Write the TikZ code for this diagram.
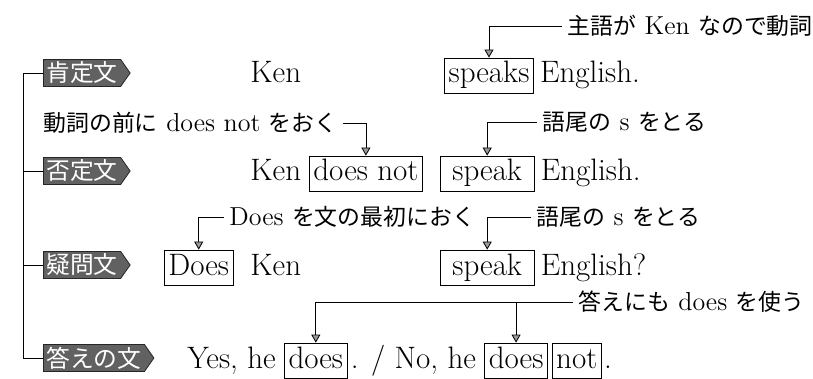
\documentclass[tikz,border=0pt]{standalone}
\usepackage{fontspec}
\newfontfamily\jp[Scale=0.88]{Noto Sans CJK JP}
\usetikzlibrary{positioning,shapes.symbols,arrows.meta}
\tikzset{
    label-tag/.style = {signal, signal to=east, signal from=nowhere, signal pointer angle=110, fill=black!62, draw=black!85, text=white, font=\jp\fontsize{13.5}{14}\selectfont, inner xsep=1.5pt, inner ysep=1pt, minimum height=13.5pt, anchor=west},
    word/.style = {inner sep=0pt, font=\fontsize{15.5}{18}\selectfont, text height=11pt, text depth=3.5pt},
    word-box/.style = {word, draw, thin, inner xsep=2pt, inner ysep=1.5pt},
    note-text/.style = {inner xsep=2.5pt, inner ysep=1pt, font=\fontsize{13}{14}\selectfont},
    link-arrow/.style = {thin, -{Triangle[length=4pt,width=4.5pt,fill=black!40]}},
}

\begin{document}
\begin{tikzpicture}[x=0.5pt, y=-0.5pt]
\useasboundingbox (0,0) rectangle (813,379);
% tags and the bracket on the left
\node[label-tag] (tag-pos) at (43,73) {肯定文};
\node[label-tag] (tag-neg) at (43,171) {否定文};
\node[label-tag] (tag-q) at (43,265) {疑問文};
\node[label-tag] (tag-ans) at (43,358) {答えの文};
\coordinate (brk) at (23,73);
\draw[thin] (tag-pos.west) -- (brk) -- (brk |- tag-ans.west) -- (tag-ans.west);
\draw[thin] (brk |- tag-neg.west) -- (tag-neg.west);
\draw[thin] (brk |- tag-q.west) -- (tag-q.west);

% positive
\node[word, anchor=base west] (ken1) at (250,83) {Ken};
\node[word-box, anchor=base] (speaks) at (489,83) {speaks};
\node[word, right=3pt of speaks.base east, anchor=base west] (eng1) {English.};
\node[note-text, anchor=west] (note1) at (562,26) {{\jp 主語が} Ken {\jp なので動詞}};
\draw[link-arrow] (note1.west) -| (speaks.north);

% negative
\node[word, anchor=base west] (ken2) at (250,181) {Ken};
\node[word-box, anchor=base west] (dnot) at (309,181) {does not};
\node[word-box, anchor=base west, inner xsep=6pt] (speak2) at (440,181) {speak};
\node[word, right=3pt of speak2.base east, anchor=base west] (eng2) {English.};
\node[note-text, anchor=west] (note2a) at (38,123) {{\jp 動詞の前に} does not {\jp をおく}};
\draw[link-arrow] (note2a.east) -| (dnot.north);
\node[note-text, anchor=west] (note2b) at (537,122) {{\jp 語尾の} s {\jp をとる}};
\draw[link-arrow] (note2b.west) -| (speak2.north);

% question
\node[word-box, anchor=base west] (does3) at (164,275) {Does};
\node[word, anchor=base west] (ken3) at (250,275) {Ken};
\node[word-box, anchor=base west, inner xsep=6pt] (speak3) at (440,275) {speak};
\node[word, right=3pt of speak3.base east, anchor=base west] (eng3) {English?};
\node[note-text, anchor=west] (note3a) at (224,217) {Does {\jp を文の最初におく}};
\draw[link-arrow] (note3a.west) -| (does3.north);
\node[note-text, anchor=west] (note3b) at (531,217) {{\jp 語尾の} s {\jp をとる}};
\draw[link-arrow] (note3b.west) -| (speak3.north);

% answer
\node[word, anchor=base west] (yes) at (187,368) {Yes, he};
\node[word-box, right=4pt of yes.base east, anchor=base west] (does4a) {does};
\node[word, right=1.5pt of does4a.base east, anchor=base west] (no) {. / No, he};
\node[word-box, right=4pt of no.base east, anchor=base west] (does4b) {does};
\node[word-box, right=2pt of does4b.base east, anchor=base west] (not4) {not};
\node[word, right=1pt of not4.base east, anchor=base west] (dot4) {.};
\node[note-text, anchor=west] (note4) at (573,302) {{\jp 答えにも} does {\jp を使う}};
\draw[link-arrow] (note4.west) -| (does4a.north);
\draw[link-arrow] (note4.west -| does4b.north) -- (does4b.north);
\end{tikzpicture}
\end{document}
